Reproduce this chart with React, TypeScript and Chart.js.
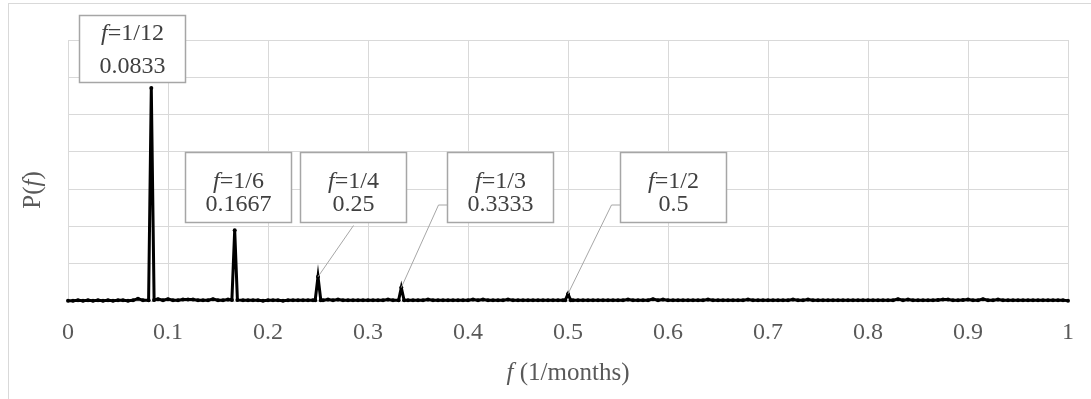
import { useEffect, useRef } from "react";
import { Chart, registerables } from "chart.js";

Chart.register(...registerables);

// Periodogram P(f): [f, P]
const spectrum: [number, number][] = [
  [0, 0.01], [0.005, 0.01], [0.01, 0.02], [0.015, 0.01], [0.02, 0.02], [0.025, 0.01], [0.03, 0.02], [0.035, 0.01],
  [0.04, 0.02], [0.045, 0.01], [0.05, 0.02], [0.055, 0.02], [0.06, 0.01], [0.065, 0.02], [0.07, 0.06], [0.075, 0.02],
  [0.0806, 0.02], [0.0833, 5.71], [0.0861, 0.03],
  [0.09, 0.05], [0.095, 0.02], [0.1, 0.05], [0.105, 0.02], [0.11, 0.02], [0.115, 0.04], [0.12, 0.04], [0.125, 0.04],
  [0.13, 0.02], [0.135, 0.02], [0.14, 0.02], [0.145, 0.05], [0.15, 0.02], [0.155, 0.02], [0.16, 0.04],
  [0.1639, 0.03], [0.1667, 1.9], [0.1694, 0.03],
  [0.175, 0.02], [0.18, 0.02], [0.185, 0.02], [0.19, 0.02], [0.195, 0.01], [0.2, 0.02], [0.205, 0.02], [0.21, 0.02],
  [0.215, 0.01], [0.22, 0.02], [0.225, 0.02], [0.23, 0.02], [0.235, 0.02], [0.24, 0.02], [0.245, 0.02],
  [0.2472, 0.02], [0.25, 0.65], [0.2528, 0.02],
  [0.255, 0.02], [0.26, 0.04], [0.265, 0.02], [0.27, 0.04], [0.275, 0.02], [0.28, 0.02], [0.285, 0.02], [0.29, 0.02],
  [0.295, 0.02], [0.3, 0.02], [0.305, 0.02], [0.31, 0.02], [0.315, 0.02], [0.32, 0.04], [0.325, 0.02],
  [0.3306, 0.02], [0.3333, 0.36], [0.3361, 0.02],
  [0.34, 0.02], [0.345, 0.02], [0.35, 0.02], [0.355, 0.02], [0.36, 0.04], [0.365, 0.02], [0.37, 0.02], [0.375, 0.02],
  [0.38, 0.02], [0.385, 0.02], [0.39, 0.02], [0.395, 0.02], [0.4, 0.02], [0.405, 0.04], [0.41, 0.02], [0.415, 0.04],
  [0.42, 0.02], [0.425, 0.02], [0.43, 0.02], [0.435, 0.02], [0.44, 0.04], [0.445, 0.02], [0.45, 0.02], [0.455, 0.02],
  [0.46, 0.02], [0.465, 0.02], [0.47, 0.02], [0.475, 0.02], [0.48, 0.02], [0.485, 0.02], [0.49, 0.02], [0.495, 0.02],
  [0.4972, 0.02], [0.5, 0.19], [0.5028, 0.02],
  [0.505, 0.02], [0.51, 0.02], [0.515, 0.02], [0.52, 0.02], [0.525, 0.02], [0.53, 0.02], [0.535, 0.02], [0.54, 0.02],
  [0.545, 0.02], [0.55, 0.02], [0.555, 0.02], [0.56, 0.04], [0.565, 0.02], [0.57, 0.02], [0.575, 0.02], [0.58, 0.02],
  [0.585, 0.05], [0.59, 0.02], [0.595, 0.04], [0.6, 0.02], [0.605, 0.02], [0.61, 0.02], [0.615, 0.02], [0.62, 0.02],
  [0.625, 0.02], [0.63, 0.02], [0.635, 0.02], [0.64, 0.04], [0.645, 0.02], [0.65, 0.02], [0.655, 0.02], [0.66, 0.02],
  [0.665, 0.02], [0.67, 0.02], [0.675, 0.02], [0.68, 0.04], [0.685, 0.02], [0.69, 0.02], [0.695, 0.02], [0.7, 0.02],
  [0.705, 0.02], [0.71, 0.02], [0.715, 0.02], [0.72, 0.02], [0.725, 0.04], [0.73, 0.02], [0.735, 0.02], [0.74, 0.04],
  [0.745, 0.02], [0.75, 0.02], [0.755, 0.02], [0.76, 0.02], [0.765, 0.02], [0.77, 0.02], [0.775, 0.02], [0.78, 0.02],
  [0.785, 0.02], [0.79, 0.02], [0.795, 0.02], [0.8, 0.02], [0.805, 0.02], [0.81, 0.02], [0.815, 0.02], [0.82, 0.02],
  [0.825, 0.02], [0.83, 0.05], [0.835, 0.02], [0.84, 0.04], [0.845, 0.02], [0.85, 0.02], [0.855, 0.02], [0.86, 0.02],
  [0.865, 0.02], [0.87, 0.03], [0.875, 0.04], [0.88, 0.04], [0.885, 0.02], [0.89, 0.02], [0.895, 0.03], [0.9, 0.04],
  [0.905, 0.02], [0.91, 0.02], [0.915, 0.05], [0.92, 0.02], [0.925, 0.02], [0.93, 0.04], [0.935, 0.02], [0.94, 0.02],
  [0.945, 0.02], [0.95, 0.02], [0.955, 0.02], [0.96, 0.02], [0.965, 0.02], [0.97, 0.02], [0.975, 0.02], [0.98, 0.02],
  [0.985, 0.02], [0.99, 0.02], [0.995, 0.02], [1, 0.01],
];

// Annotated peaks
const peakFreqs = [0.0833, 0.1667, 0.25, 0.3333, 0.5];
const peakFractions = ["1/12", "1/6", "1/4", "1/3", "1/2"];
const peakDecimals = ["0.0833", "0.1667", "0.25", "0.3333", "0.5"];

// Axis tick values
const xTicks = [0, 0.1, 0.2, 0.3, 0.4, 0.5, 0.6, 0.7, 0.8, 0.9, 1];

// Label box layout (centre in axis units, size in px, text line offsets, leader style)
const boxLayout = [
  { f: 0.064, p: 6.77, w: 106, h: 67, l1: 18, l2: 51, leader: "none" },
  { f: 0.17, p: 3.06, w: 106, h: 70, l1: 29, l2: 52, leader: "none" },
  { f: 0.2845, p: 3.06, w: 106, h: 70, l1: 29, l2: 52, leader: "bottom" },
  { f: 0.4315, p: 3.06, w: 106, h: 70, l1: 29, l2: 52, leader: "left" },
  { f: 0.605, p: 3.06, w: 106, h: 70, l1: 29, l2: 52, leader: "left" },
];

const SERIF = '"Liberation Serif", "Times New Roman", serif';
const FONT_SIZE = 24;
const TITLE_SIZE = 25;

type Part = { t: string; it?: boolean };

function drawParts(ctx: CanvasRenderingContext2D, parts: Part[], cx: number, cy: number, color: string, size = FONT_SIZE) {
  let total = 0;
  const widths = parts.map((p) => {
    ctx.font = `${p.it ? "italic " : ""}${size}px ${SERIF}`;
    const w = ctx.measureText(p.t).width;
    total += w;
    return w;
  });
  let x = cx - total / 2;
  ctx.fillStyle = color;
  ctx.textBaseline = "middle";
  ctx.textAlign = "left";
  parts.forEach((p, i) => {
    ctx.font = `${p.it ? "italic " : ""}${size}px ${SERIF}`;
    ctx.fillText(p.t, x, cy);
    x += widths[i];
  });
}

const overlay = {
  id: "overlay",
  beforeDraw(chart: any) {
    const ctx = chart.ctx as CanvasRenderingContext2D;
    ctx.save();
    ctx.strokeStyle = "#d9d9d9";
    ctx.lineWidth = 1;
    ctx.strokeRect(8.5, 3.5, chart.width + 20, chart.height + 20);
    ctx.restore();
  },
  afterDraw(chart: any) {
    const ctx = chart.ctx as CanvasRenderingContext2D;
    const xs = chart.scales.x;
    const ys = chart.scales.y;
    const ca = chart.chartArea;
    ctx.save();

    boxLayout.forEach((b, i) => {
      const cx = xs.getPixelForValue(b.f);
      const cy = ys.getPixelForValue(b.p);
      const left = Math.round(cx - b.w / 2) + 0.5;
      const top = Math.round(cy - b.h / 2) + 0.5;
      const pf = peakFreqs[i];
      let best = spectrum[0];
      spectrum.forEach((d) => {
        if (Math.abs(d[0] - pf) < Math.abs(best[0] - pf)) best = d;
      });
      const px = xs.getPixelForValue(best[0]);
      const py = ys.getPixelForValue(best[1]);
      ctx.strokeStyle = "#a6a6a6";
      ctx.lineWidth = 1;
      if (b.leader === "bottom") {
        ctx.beginPath();
        ctx.moveTo(left + b.w / 2, top + b.h + 3);
        ctx.lineTo(px, py);
        ctx.stroke();
      } else if (b.leader === "left") {
        const ly = top + b.l2 + 0.5;
        ctx.beginPath();
        ctx.moveTo(left, ly);
        ctx.lineTo(left - 9, ly);
        ctx.lineTo(px, py);
        ctx.stroke();
      }
      ctx.fillStyle = "#ffffff";
      ctx.fillRect(left, top, b.w, b.h);
      ctx.strokeStyle = "#a6a6a6";
      ctx.lineWidth = 1.5;
      ctx.strokeRect(left, top, b.w, b.h);
      drawParts(ctx, [{ t: "f", it: true }, { t: "=" + peakFractions[i] }], left + b.w / 2, top + b.l1, "#404040");
      drawParts(ctx, [{ t: peakDecimals[i] }], left + b.w / 2, top + b.l2, "#404040");
    });

    drawParts(ctx, [{ t: "f", it: true }, { t: " (1/months)" }], (ca.left + ca.right) / 2, 373, "#595959", TITLE_SIZE);
    ctx.save();
    ctx.translate(33, 190);
    ctx.rotate(-Math.PI / 2);
    drawParts(ctx, [{ t: "P(" }, { t: "f", it: true }, { t: ")" }], 0, 0, "#595959", TITLE_SIZE);
    ctx.restore();

    ctx.restore();
  },
};

export default function App() {
  const ref = useRef<HTMLCanvasElement>(null);
  useEffect(() => {
    if (!ref.current) return;
    const chart = new Chart(ref.current, {
      type: "line",
      data: {
        datasets: [
          {
            data: spectrum.map(([f, p]) => ({ x: f, y: p })),
            borderColor: "#000000",
            backgroundColor: "#000000",
            borderWidth: 3,
            pointRadius: 2,
            pointBorderWidth: 0,
            pointBackgroundColor: "#000000",
            tension: 0,
            clip: false,
          } as any,
        ],
      },
      options: {
        animation: false,
        responsive: false,
        maintainAspectRatio: false,
        layout: { padding: { top: 40, right: 23, left: 0, bottom: 0 } },
        plugins: { legend: { display: false }, tooltip: { enabled: false } },
        scales: {
          x: {
            type: "linear",
            min: 0,
            max: 1,
            afterBuildTicks: (s: any) => {
              s.ticks = xTicks.map((v) => ({ value: v }));
            },
            ticks: {
              color: "#595959",
              font: { family: SERIF, size: FONT_SIZE },
              padding: 17,
              maxRotation: 0,
              autoSkip: false,
              callback: (v: any) => String(Number(Number(v).toFixed(1))),
            },
            grid: { color: "#d9d9d9", lineWidth: 1, drawTicks: false },
            border: { display: false },
            afterFit: (s: any) => {
              s.height = 98;
            },
          },
          y: {
            min: 0,
            max: 7,
            ticks: { stepSize: 1, display: false },
            grid: { color: "#d9d9d9", lineWidth: 1, drawTicks: false },
            border: { display: false },
            afterFit: (s: any) => {
              s.width = 68;
            },
          },
        },
      },
      plugins: [overlay],
    });
    return () => chart.destroy();
  }, []);
  return (
    <div style={{ position: "absolute", left: 0, top: 0, width: 1091, height: 399, background: "#fff" }}>
      <canvas ref={ref} width={1091} height={399} style={{ display: "block" }} />
    </div>
  );
}
